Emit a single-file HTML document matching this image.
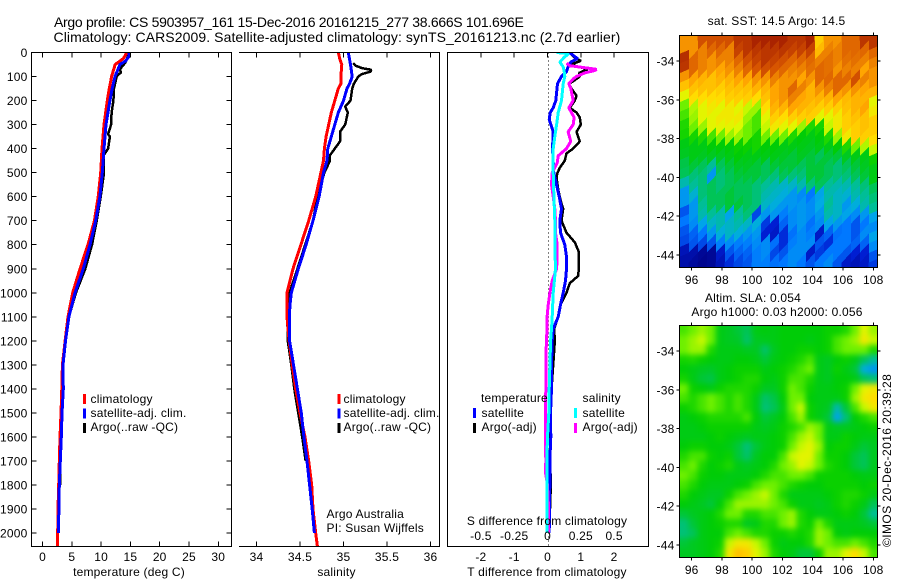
<!DOCTYPE html>
<html>
<head>
<meta charset="utf-8">
<title>Argo profile</title>
<style>
html,body{margin:0;padding:0;background:#fff;}
#chart{display:block;width:900px;height:580px;}
text{font-family:"Liberation Sans",sans-serif;font-size:12px;fill:#000;letter-spacing:0.2px;}
</style>
</head>
<body>
<svg id="chart" xmlns="http://www.w3.org/2000/svg" width="900" height="580" viewBox="0 0 900 580">
<defs>
<clipPath id="clip-sst"><rect x="679.5" y="35.5" width="198" height="232"/></clipPath>
<clipPath id="clip-sla"><rect x="679.5" y="325.5" width="198" height="232"/></clipPath>
<clipPath id="clip-p1"><rect x="31" y="52" width="201" height="494"/></clipPath>
<clipPath id="clip-p2"><rect x="239" y="52" width="201" height="494"/></clipPath>
<clipPath id="clip-p3"><rect x="447" y="52" width="202" height="494"/></clipPath>
<filter id="soften" x="-10%" y="-10%" width="120%" height="120%" color-interpolation-filters="sRGB"><feGaussianBlur stdDeviation="3"/></filter>
</defs>
<rect width="900" height="580" fill="#fff"/>
<text x="54" y="27" style="font-size:14px" textLength="470" lengthAdjust="spacing">Argo profile: CS 5903957_161 15-Dec-2016 20161215_277 38.666S 101.696E</text>
<text x="53.5" y="42" style="font-size:14px" textLength="567" lengthAdjust="spacing">Climatology: CARS2009. Satellite-adjusted climatology: synTS_20161213.nc (2.7d earlier)</text>
<g id="marks"></g>
<text x="129" y="576" text-anchor="middle">temperature (deg C)</text>
<text x="336.5" y="576" text-anchor="middle">salinity</text>
<text x="547" y="576" text-anchor="middle">T difference from climatology</text>
<text x="547" y="525" text-anchor="middle">S difference from climatology</text>
<rect x="83" y="394" width="3" height="10" fill="#f00"/>
<text x="90.5" y="403">climatology</text>
<rect x="83" y="408.5" width="3" height="10" fill="#00f"/>
<text x="90.5" y="417">satellite-adj. clim.</text>
<rect x="83" y="423" width="3" height="10" fill="#000"/>
<text x="90.5" y="431">Argo(..raw -QC)</text>
<rect x="337.5" y="394" width="3" height="10" fill="#f00"/>
<text x="343.5" y="403">climatology</text>
<rect x="337.5" y="408.5" width="3" height="10" fill="#00f"/>
<text x="343.5" y="417">satellite-adj. clim.</text>
<rect x="337.5" y="423" width="3" height="10" fill="#000"/>
<text x="343.5" y="431">Argo(..raw -QC)</text>
<text x="326.5" y="518">Argo Australia</text>
<text x="326.5" y="532">PI: Susan Wijffels</text>
<text x="481" y="402">temperature</text>
<rect x="473" y="408" width="3" height="10" fill="#00f"/>
<text x="481.5" y="417">satellite</text>
<rect x="473" y="423" width="3" height="10" fill="#000"/>
<text x="481.5" y="431">Argo(-adj)</text>
<text x="582.5" y="402">salinity</text>
<rect x="574" y="408" width="3" height="10" fill="#0ff"/>
<text x="582.5" y="417">satellite</text>
<rect x="574" y="423" width="3" height="10" fill="#f0f"/>
<text x="582.5" y="431">Argo(-adj)</text>
<text x="776.5" y="25" text-anchor="middle">sat. SST: 14.5 Argo: 14.5</text>
<text x="753" y="302" text-anchor="middle">Altim. SLA: 0.054</text>
<text x="777" y="316" text-anchor="middle">Argo h1000: 0.03 h2000: 0.056</text>
<text transform="translate(891,547) rotate(-90)" textLength="173" lengthAdjust="spacing">©IMOS 20-Dec-2016 20:39:28</text>
</svg>
<script>
// ---------- tick labels ----------
const depthTicks = [0,100,200,300,400,500,600,700,800,900,1000,1100,1200,1300,1400,1500,1600,1700,1800,1900,2000];
const tempTicks = [0,5,10,15,20,25,30];
const salTicks = [34,34.5,35,35.5,36];
const salTickLabels = ['34','34.5','35','35.5','36'];
const tDiffTicks = [-2,-1,0,1,2];
const sDiffTicks = [-0.5,-0.25,0,0.25,0.5];
const sDiffLabels = ['-0.5','-0.25','0','0.25','0.5'];
const lonTicks = [96,98,100,102,104,106,108];
const latTicks = [-34,-36,-38,-40,-42,-44];

// ---------- temperature profiles (depth in dbar, deg C) ----------
const tempClimDepth = [0,25,50,100,150,200,300,400,500,600,700,800,900,1000,1100,1200,1300,1400,1500,1600,1700,1800,1900,2000,2055];
const tempClim = [14.4,13.8,12.4,11.8,11.4,11.06,10.5,10.15,9.93,9.5,8.85,7.76,6.4,5.15,4.35,3.85,3.4,3.3,3.16,2.98,2.87,2.76,2.65,2.6,2.55];
const tempSatDepth = [0,15,35,50,75,100,150,200,300,400,500,600,700,800,900,1000,1100,1200,1300,1400,1500,1600,1700,1800,1900,2000];
const tempSat = [14.8,14.8,14.2,13.2,12.8,12.37,11.9,11.5,10.84,10.5,10.2,9.8,9.08,8.1,6.96,5.55,4.5,3.92,3.5,3.55,3.33,3.2,3.04,2.87,2.8,2.7];
const tempArgoDepth = [0,40,70,85,90,100,150,200,250,300,340,350,400,430,500,600,700,800,900,1000,1100,1200,1300,1400,1500,1600,1700,1800];
const tempArgo = [14.8,14.2,13.2,13.4,13,12.66,12.2,12.1,11.8,11.7,11.2,11.5,11.2,10.4,10.5,9.93,9.25,8.45,7.3,5.7,4.5,3.9,3.5,3.5,3.3,3.1,3.0,3.05];

// ---------- salinity profiles ----------
const salClimDepth = [0,30,50,100,130,150,200,250,300,350,400,450,500,600,700,800,900,1000,1050,1100,1200,1300,1400,1500,1600,1700,1800,1900,2000,2055];
const salClim = [34.94,34.96,34.98,34.97,34.97,34.94,34.90,34.86,34.83,34.80,34.78,34.77,34.74,34.68,34.6,34.51,34.42,34.35,34.35,34.35,34.375,34.41,34.45,34.5,34.557,34.6,34.635,34.65,34.68,34.70];
const salSatDepth = [0,30,50,100,130,150,200,250,300,350,400,450,500,600,700,800,900,1000,1050,1100,1200,1300,1400,1500,1600,1700,1800,1900,2000];
const salSat = [35.055,35.07,35.08,35.10,35.07,35.04,35.0,34.94,34.9,34.86,34.82,34.81,34.77,34.72,34.65,34.57,34.48,34.4,34.385,34.377,34.38,34.425,34.47,34.515,34.545,34.58,34.61,34.64,34.665];
const salArgoDepth = [45,55,65,72,80,90,100,130,150,200,225,250,300,330,370,400,430,450,500,600,700,800,900,1000,1050,1100,1200,1300,1400,1500,1600,1700];
const salArgo = [35.11,35.14,35.21,35.32,35.31,35.21,35.17,35.12,35.1,35.08,35.02,35.05,35.02,34.96,34.96,34.9,34.84,34.845,34.78,34.7,34.65,34.56,34.47,34.38,34.354,34.354,34.36,34.4,34.435,34.48,34.525,34.565];

// ---------- difference profiles ----------
const dTSatDepth = [0,15,25,40,60,80,100,130,200,230,250,280,300,330,400,500,550,600,650,700,750,800,850,900,950,1000,1050,1100,1150,1200,1300,1400,1500,1600,1700,1800,1900,2000];
const dTSat = [0.67,0.8,0.9,0.7,0.62,0.57,0.42,0.3,0.25,0.17,0.08,0.05,0.1,0.17,0.15,0.19,0.27,0.35,0.42,0.37,0.39,0.52,0.57,0.57,0.54,0.47,0.39,0.32,0.17,0.14,0.12,0.12,0.09,0.1,0.07,0.07,0.06,0.05];
const dTArgoDepth = [0,20,35,50,70,85,100,120,130,150,180,200,230,250,270,300,330,370,400,420,450,480,500,520,570,600,630,650,700,750,790,830,900,930,960,1000,1050,1100,1150,1200,1300,1400,1500,1700,1800,2000];
const dTArgo = [0.67,0.8,1.0,0.7,1.2,0.95,0.97,0.77,0.64,0.72,0.87,0.82,0.67,0.87,0.97,1.0,0.87,0.97,0.77,0.57,0.52,0.37,0.3,0.27,0.32,0.37,0.42,0.47,0.42,0.57,0.82,0.94,0.94,0.92,0.67,0.57,0.39,0.32,0.2,0.22,0.17,0.12,0.09,0.08,0.1,0.05];
const dSSatDepth = [0,5,20,40,60,80,100,130,200,250,300,350,400,450,500,600,700,800,900,1000,1100,1150,1200,1300,1400,1500,1600,1700,1800,1900,2000];
const dSSat = [0.07,0.16,0.125,0.093,0.118,0.125,0.13,0.118,0.105,0.08,0.068,0.055,0.043,0.043,0.043,0.048,0.055,0.055,0.06,0.043,0.035,0.03,0.023,0.018,0.013,0.01,0,-0.005,-0.005,-0.005,-0.005];
const dSArgoDepth = [45,55,70,75,85,100,110,130,150,200,230,250,270,300,330,370,400,430,460,500,550,600,650,700,750,800,850,900,950,1000,1050,1100,1150,1200,1300,1400,1500,1600,1700,1750,1800,1900,2000];
const dSArgo = [0.143,0.168,0.368,0.355,0.28,0.218,0.193,0.16,0.175,0.193,0.16,0.18,0.2,0.193,0.155,0.175,0.143,0.08,0.073,0.035,0.03,0.043,0.055,0.06,0.06,0.073,0.073,0.068,0.035,0.018,0.005,-0.003,-0.003,-0.008,-0.013,-0.013,-0.015,-0.015,-0.013,-0.015,0,0.008,0.008];

// ---------- map grids, colour index 0-100, north row first ----------
const sstGrid = [
[80,80,88,88,88,88,92,92,95,95,95,95,92,92,95,72,80,80,85,85,92,92],
[80,80,82,85,85,82,90,92,92,92,92,92,90,90,90,75,82,82,85,85,85,85],
[93,85,82,80,82,82,85,88,90,92,90,88,85,85,85,82,84,82,84,84,82,82],
[92,85,82,80,78,80,82,85,87,88,87,85,82,82,84,85,84,80,82,82,78,80],
[80,78,76,74,76,76,78,78,80,80,82,80,80,78,80,85,85,85,85,88,82,80],
[74,74,74,74,72,74,74,74,76,76,78,80,85,82,76,80,82,85,80,80,78,76],
[66,70,70,70,70,72,72,72,70,74,78,80,82,78,76,76,76,78,75,76,76,66],
[60,63,66,68,66,68,66,64,62,70,76,76,78,76,74,72,72,72,74,76,78,68],
[58,62,66,66,68,68,68,62,58,66,72,70,72,72,72,66,66,68,72,74,74,72],
[56,60,62,66,66,66,65,60,58,64,68,66,66,62,56,55,64,68,72,72,74,72],
[55,55,56,58,60,62,62,60,55,60,60,60,56,52,50,52,56,62,68,72,72,70],
[50,50,50,52,52,52,54,54,55,52,52,50,50,50,48,50,50,52,56,60,63,64],
[48,50,48,48,48,50,52,50,50,50,50,48,46,48,46,44,46,46,48,50,50,54],
[45,46,44,40,44,46,48,48,46,44,46,46,46,44,46,46,44,42,44,46,48,50],
[44,42,42,30,42,44,46,46,46,44,42,44,42,42,46,46,44,42,42,44,46,50],
[38,40,42,44,42,44,44,44,42,40,38,36,36,38,42,44,40,38,38,40,42,44],
[30,35,42,44,44,46,44,44,42,38,36,34,30,28,25,32,38,36,35,38,40,42],
[30,30,40,44,44,46,46,44,42,36,34,30,30,30,28,33,40,36,30,34,38,40],
[20,30,38,40,38,32,40,42,18,30,30,26,28,30,28,30,38,36,32,28,30,32],
[25,28,32,36,38,36,38,36,34,16,12,22,28,30,24,28,32,30,25,20,25,28],
[20,22,25,30,34,36,34,30,30,12,10,14,24,28,26,10,22,24,25,20,28,32],
[18,20,18,20,26,28,26,26,28,28,24,14,26,28,28,20,14,25,25,22,22,28],
[8,6,3,3,10,20,22,22,26,28,18,20,28,28,10,16,25,25,20,12,12,20],
[6,4,2,3,8,14,18,20,26,26,24,25,28,25,20,25,28,20,10,8,10,16]
];
const slaGrid = [
[58,60,62,60,50,48,46,44,50,51,50,52,52,52,52,52,54,54,56,60,66,62],
[60,62,64,60,50,48,47,43,48,49,50,52,52,52,50,52,54,58,60,62,68,64],
[60,62,62,56,50,50,50,48,48,43,48,52,52,54,54,52,54,58,60,60,60,56],
[55,56,54,52,50,50,52,52,50,46,50,52,54,56,58,50,48,52,54,50,44,40],
[52,50,48,47,50,52,54,54,54,50,52,54,56,58,60,50,48,54,50,46,34,30],
[55,50,46,45,50,52,54,56,56,52,50,54,58,58,56,50,48,52,52,50,44,42],
[60,54,52,50,54,56,56,56,54,48,48,54,60,58,54,50,50,52,54,60,66,68],
[58,56,58,60,58,56,58,56,50,43,45,52,60,60,52,50,50,50,54,62,68,70],
[54,56,58,60,58,56,58,56,50,42,44,50,60,64,54,50,48,38,46,58,64,68],
[50,52,54,56,56,56,56,58,52,46,48,52,58,62,54,50,46,32,42,52,56,58],
[50,50,52,54,54,54,54,54,50,48,50,54,56,58,62,60,50,48,48,50,52,54],
[50,50,50,52,54,52,50,48,50,50,52,54,58,62,64,60,50,50,54,52,50,50],
[52,54,54,52,52,50,46,42,46,50,52,54,60,64,66,62,52,54,54,50,46,48],
[56,58,58,54,52,54,46,43,48,52,52,58,64,66,66,60,54,54,52,46,44,48],
[58,60,56,52,54,56,50,48,50,52,56,60,62,66,64,60,56,54,52,46,44,48],
[60,58,54,52,52,50,50,50,52,56,58,58,60,60,58,54,54,54,54,52,50,50],
[58,56,52,50,50,50,52,54,58,60,60,58,56,54,52,52,54,54,54,54,52,54],
[56,52,50,48,48,54,58,60,62,64,60,56,50,50,50,50,52,54,56,56,54,50],
[52,50,48,46,52,58,62,62,62,62,60,58,54,50,50,48,50,54,56,54,50,44],
[46,48,50,52,56,60,60,56,56,58,58,60,62,56,52,50,50,52,54,52,46,40],
[42,46,50,52,54,56,56,48,50,56,56,60,62,56,54,60,56,50,50,50,48,46],
[42,44,50,52,52,58,60,58,56,56,54,54,56,54,56,62,60,52,50,52,52,52],
[46,48,50,52,54,64,68,68,64,60,54,50,52,52,56,62,60,58,58,60,58,56],
[48,48,50,52,56,68,74,72,66,62,56,52,50,46,46,54,62,62,66,70,64,58]
];

// ---------- scales ----------
const NS = 'http://www.w3.org/2000/svg';
const root = document.getElementById('marks');
const TOP = 52.5, BOTTOM = 546.5;
const yDepth = d => 52.5 + 0.2403 * d;
const xTemp = t => 42.5 + 5.86 * t;
const xSal = s => 256.5 + 87 * (s - 34);
const xDT = t => 547.5 + 33.3 * t;
const xDS = s => 547.5 + 133.2 * s;
const LON0 = 95.19, LAT0 = -32.69, DLON = (108.28 - 95.19) / 22, DLAT = (44.64 - 32.69) / 24;
const xLon = lon => 691.7 + (lon - 96) * 15.13;
const yLat = (lat, top) => top + 25.5 + (-34 - lat) * 19.4;

const colorStops = [[0,0,0,130],[12,0,30,210],[25,0,120,255],[33,0,170,230],[40,0,190,150],[47,0,200,40],[53,0,205,0],[56,30,215,0],[60,110,240,0],[65,220,250,0],[70,255,220,0],[78,255,165,0],[87,215,85,0],[95,170,35,0],[100,140,15,0]];
function colorOf(v){
  for(let i=1;i<colorStops.length;i++){
    const a=colorStops[i-1], b=colorStops[i];
    if(v<=b[0]){
      const f=(v-a[0])/(b[0]-a[0]);
      return 'rgb('+[1,2,3].map(k=>Math.round(a[k]+(b[k]-a[k])*f)).join(',')+')';
    }
  }
  return 'rgb(140,15,0)';
}

function make(parent, tag, props){
  const el = document.createElementNS(NS, tag);
  for(const k in props) el.setAttribute(k, props[k]);
  parent.appendChild(el);
  return el;
}
function line(parent, name, x1, y1, x2, y2){
  const el = make(parent, 'line', {x1:x1, y1:y1, x2:x2, y2:y2, stroke:'#000', 'stroke-width':1, 'shape-rendering':'crispEdges'});
  
  
  return el;
}
function label(parent, name, x, y, str, anchor){
  const el = make(parent, 'text', {x:x, y:y, 'text-anchor':anchor});
  el.textContent = str;
  
  
  return el;
}
function profile(parent, name, xScale, depths, values, color, width, clip){
  const pts = depths.map((d,i) => Math.round(xScale(values[i])*10)/10 + ',' + Math.round(yDepth(d)*10)/10).join(' ');
  const el = make(parent, 'polyline', {points:pts, fill:'none', stroke:color, 'stroke-width':width, 'shape-rendering':'crispEdges', 'stroke-linejoin':'bevel', 'clip-path':'url(#'+clip+')'});
  
  
  return el;
}
function group(parent, name){
  const el = make(parent, 'g', {});
  
  
  return el;
}

// ---------- panel 1: temperature ----------
const p1 = group(root, 'temperature-panel');
profile(p1, 'temperature-argo-line', xTemp, tempArgoDepth, tempArgo, '#000', 2.5, 'clip-p1');
profile(p1, 'temperature-climatology-line', xTemp, tempClimDepth, tempClim, '#f00', 3, 'clip-p1');
profile(p1, 'temperature-satellite-line', xTemp, tempSatDepth, tempSat, '#00f', 3, 'clip-p1');
line(p1, 'temperature-axis-left', 31.5, TOP, 31.5, BOTTOM);
line(p1, 'temperature-axis-right', 231.5, TOP, 231.5, BOTTOM);
line(p1, 'temperature-axis-top', 31, TOP, 232, TOP);
line(p1, 'temperature-axis-bottom', 31, BOTTOM, 232, BOTTOM);
depthTicks.forEach(d => {
  const y = yDepth(d);
  line(p1, 'depth-tick-left', 31.5, y, 36.5, y);
  line(p1, 'depth-tick-right', 226.5, y, 231.5, y);
  label(p1, 'depth-tick-label', 27.5, y + 4.5, String(d), 'end');
});
tempTicks.forEach(t => {
  const x = xTemp(t);
  line(p1, 'temperature-tick-top', x, TOP, x, TOP + 5);
  line(p1, 'temperature-tick-bottom', x, BOTTOM - 5, x, BOTTOM);
  label(p1, 'temperature-tick-label', x, 561, String(t), 'middle');
});

// ---------- panel 2: salinity ----------
const p2 = group(root, 'salinity-panel');
profile(p2, 'salinity-argo-line', xSal, salArgoDepth, salArgo, '#000', 2.5, 'clip-p2');
profile(p2, 'salinity-climatology-line', xSal, salClimDepth, salClim, '#f00', 3, 'clip-p2');
profile(p2, 'salinity-satellite-line', xSal, salSatDepth, salSat, '#00f', 3, 'clip-p2');
line(p2, 'salinity-axis-right', 439.5, TOP, 439.5, BOTTOM);
line(p2, 'salinity-axis-top', 239, TOP, 440, TOP);
line(p2, 'salinity-axis-bottom', 239, BOTTOM, 440, BOTTOM);
salTicks.forEach((s,i) => {
  const x = xSal(s);
  line(p2, 'salinity-tick-top', x, TOP, x, TOP + 5);
  line(p2, 'salinity-tick-bottom', x, BOTTOM - 5, x, BOTTOM);
  label(p2, 'salinity-tick-label', x, 561, salTickLabels[i], 'middle');
});

// ---------- panel 3: differences ----------
const p3 = group(root, 'difference-panel');
const zeroLine = line(p3, 'zero-difference-line', 548.5, TOP, 548.5, BOTTOM);
zeroLine.setAttribute('stroke-dasharray', '1 3');
profile(p3, 't-argo-difference-line', xDT, dTArgoDepth, dTArgo, '#000', 2.5, 'clip-p3');
profile(p3, 't-satellite-difference-line', xDT, dTSatDepth, dTSat, '#00f', 3, 'clip-p3');
profile(p3, 's-argo-difference-line', xDS, dSArgoDepth, dSArgo, '#f0f', 3, 'clip-p3');
profile(p3, 's-satellite-difference-line', xDS, dSSatDepth, dSSat, '#0ff', 3, 'clip-p3');
line(p3, 'difference-axis-left', 447.5, TOP, 447.5, BOTTOM);
line(p3, 'difference-axis-right', 648.5, TOP, 648.5, BOTTOM);
line(p3, 'difference-axis-top', 447, TOP, 649, TOP);
line(p3, 'difference-axis-bottom', 447, BOTTOM, 649, BOTTOM);
tDiffTicks.forEach(t => {
  const x = xDT(t);
  line(p3, 't-difference-tick-top', x, TOP, x, TOP + 5);
  label(p3, 't-difference-tick-label', x, 561, String(t), 'middle');
});
sDiffTicks.forEach((s,i) => {
  label(p3, 's-difference-tick-label', xDS(s), 540, sDiffLabels[i], 'middle');
});

// ---------- maps ----------
function drawMap(name, grid, top, clip, smooth){
  const m = group(root, name);
  const clipG = make(m, 'g', {'clip-path':'url(#'+clip+')'});
  const cells = make(clipG, 'g', smooth ? {filter:'url(#soften)'} : {'shape-rendering':'crispEdges'});
  const rows = grid.length, cols = grid[0].length;
  const shear = smooth ? 0 : 5;
  grid.forEach((row, r) => row.forEach((v, c) => {
    let x0 = xLon(LON0 + c * DLON), x1 = xLon(LON0 + (c + 1) * DLON) + 0.5;
    let y0 = yLat(LAT0 - r * DLAT, top), y1 = yLat(LAT0 - (r + 1) * DLAT, top) + 0.5;
    if(c === 0) x0 -= 14;
    if(c === cols - 1) x1 += 14;
    if(r === 0) y0 -= 14;
    if(r === rows - 1) y1 += 14;
    const pts = [x0+','+(y0+shear), x1+','+(y0-shear), x1+','+(y1-shear), x0+','+(y1+shear)].join(' ');
    const cell = make(cells, 'polygon', {points:pts, fill:colorOf(v)});
    
    
  }));
  const bottom = top + 232;
  line(m, name + '-frame-left', 679.5, top, 679.5, bottom);
  line(m, name + '-frame-right', 877.5, top, 877.5, bottom);
  line(m, name + '-frame-top', 679, top, 878, top);
  line(m, name + '-frame-bottom', 679, bottom, 878, bottom);
  lonTicks.forEach(lon => {
    const x = xLon(lon);
    line(m, name + '-lon-tick-top', x, top - 3, x, top);
    line(m, name + '-lon-tick-bottom', x, bottom, x, bottom + 3);
    label(m, name + '-lon-tick-label', x, bottom + 16.5, String(lon), 'middle');
  });
  latTicks.forEach(lat => {
    const y = yLat(lat, top);
    line(m, name + '-lat-tick-left', 676.5, y, 679.5, y);
    line(m, name + '-lat-tick-right', 877.5, y, 880.5, y);
    label(m, name + '-lat-tick-label', 674.5, y + 4.5, String(lat), 'end');
  });
}
drawMap('sst-map', sstGrid, 35.5, 'clip-sst', false);
drawMap('sla-map', slaGrid, 325.5, 'clip-sla', true);
</script>
</body>
</html>
